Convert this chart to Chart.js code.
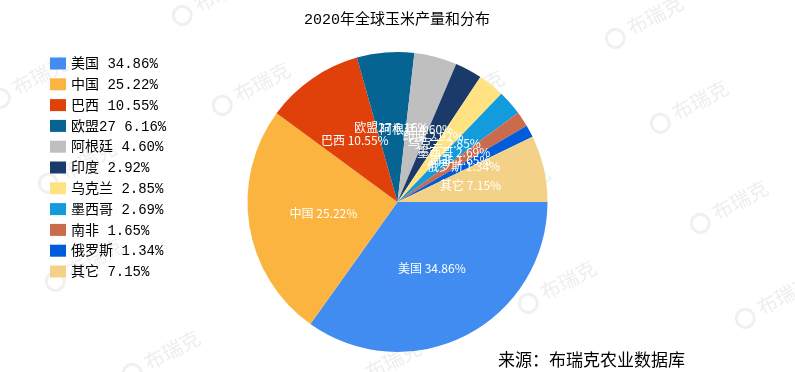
<!DOCTYPE html>
<html lang="zh">
<head>
  <meta charset="UTF-8" />
  <title>2020年全球玉米产量和分布</title>
  <script src="https://cdn.jsdelivr.net/npm/chart.js"></script>
  <style>
    * { margin: 0; padding: 0; box-sizing: border-box; }
    body { background: #ffffff; width: 795px; height: 372px; overflow: hidden; }
    canvas { display: block; }
  </style>
</head>
<body>
  <canvas id="pieChart" width="795" height="372"></canvas>

  <script>
    const categories = ['美国', '中国', '巴西', '欧盟27', '阿根廷', '印度', '乌克兰', '墨西哥', '南非', '俄罗斯', '其它'];
    const shares = [34.86, 25.22, 10.55, 6.16, 4.60, 2.92, 2.85, 2.69, 1.65, 1.34, 7.15];
    const colors = ['#418CF0', '#FCB441', '#E0400A', '#056492', '#BFBFBF', '#1A3B69', '#FFE382', '#129CDD', '#CA6B4B', '#005CDB', '#F3D288'];

    const titleText = '2020年全球玉米产量和分布';
    const sourceText = '来源：布瑞克农业数据库';

    // faint "布瑞克" watermark spots (text centre)
    const marks = [[655, 15], [700, 100], [740, 200], [785, 295], [568, 280], [522, 185], [476, 90],
                   [393, 360], [350, 265], [305, 170], [262, 82], [222, -8], [172, 350], [95, 258],
                   [88, 160], [40, 75]];

    const label = i => categories[i] + ' ' + shares[i].toFixed(2) + '%';
    const monoFont = '"Liberation Mono", "Noto Sans CJK SC", monospace';

    const decor = {
      id: 'decor',
      beforeDatasetsDraw(chart) {
        const ctx = chart.ctx;
        ctx.save();
        ctx.fillStyle = '#eeeeee';
        ctx.strokeStyle = '#f0f0f0';
        ctx.font = '20px "Noto Sans CJK SC", sans-serif';
        ctx.textAlign = 'center';
        ctx.textBaseline = 'middle';
        marks.forEach(([x, y]) => {
          ctx.save();
          ctx.translate(x, y);
          ctx.rotate(-28 * Math.PI / 180);
          ctx.fillText('布瑞克', 0, 0);
          ctx.lineWidth = 3;
          ctx.beginPath();
          ctx.arc(-46, 2, 9, 0, Math.PI * 2);
          ctx.stroke();
          ctx.restore();
        });
        ctx.restore();
      },
      afterDraw(chart) {
        const ctx = chart.ctx;
        const meta = chart.getDatasetMeta(0);
        ctx.save();

        // slice labels
        ctx.fillStyle = '#ffffff';
        ctx.font = '12px "Noto Sans CJK SC", sans-serif';
        ctx.textAlign = 'center';
        ctx.textBaseline = 'middle';
        meta.data.forEach((arc, i) => {
          const p = arc.tooltipPosition();
          ctx.fillText(label(i), p.x, p.y);
        });

        // title
        ctx.fillStyle = '#000000';
        ctx.font = '15px ' + monoFont;
        ctx.fillText(titleText, 397, 20);

        // legend
        ctx.textAlign = 'left';
        ctx.font = '14px ' + monoFont;
        categories.forEach((c, i) => {
          const y = 63.5 + i * 20.8;
          ctx.fillStyle = colors[i];
          ctx.fillRect(50, y - 6, 16, 12);
          ctx.fillStyle = '#000000';
          ctx.fillText(label(i), 71, y + 1);
        });

        // source
        ctx.font = '17px "Noto Sans CJK SC", sans-serif';
        ctx.fillText(sourceText, 498, 360);
        ctx.restore();
      }
    };

    new Chart(document.getElementById('pieChart'), {
      type: 'pie',
      data: {
        labels: categories,
        datasets: [{
          data: shares,
          backgroundColor: colors,
          borderWidth: 0,
          hoverOffset: 0
        }]
      },
      options: {
        responsive: false,
        animation: false,
        rotation: 90,
        layout: { padding: { left: 247, right: 247, top: 52, bottom: 20 } },
        plugins: {
          legend: { display: false },
          title: { display: false },
          tooltip: { enabled: false }
        }
      },
      plugins: [decor]
    });
  </script>
</body>
</html>
